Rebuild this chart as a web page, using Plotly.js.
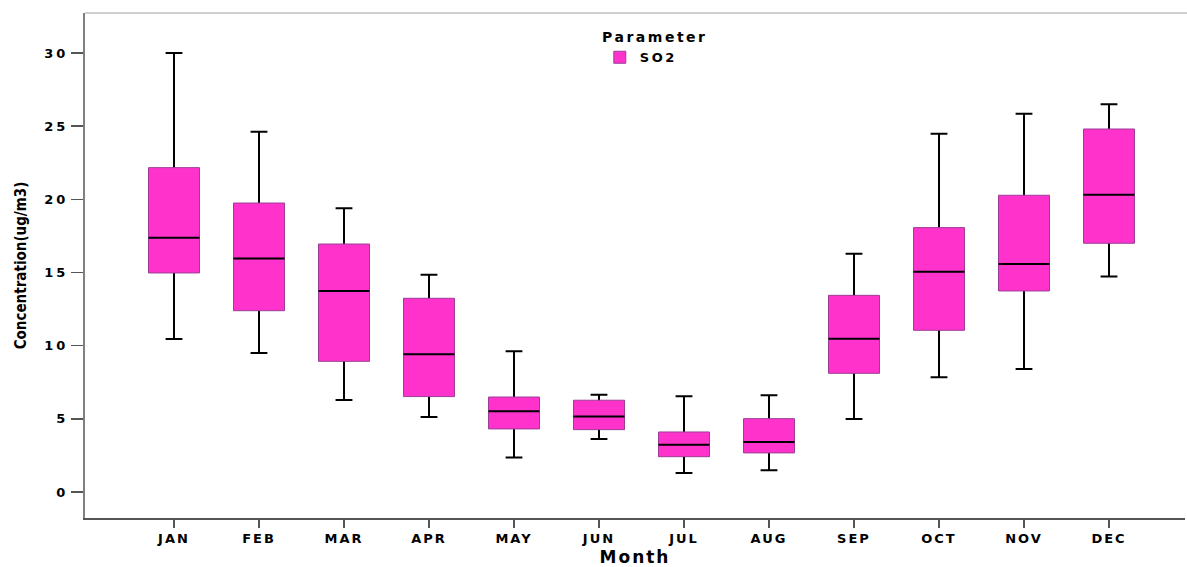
<!DOCTYPE html>
<html>
<head>
<meta charset="utf-8">
<script src="https://cdn.plot.ly/plotly-3.0.1.min.js"></script>
<style>
  html, body { margin: 0; padding: 0; background: #ffffff; }
  #chart { width: 1187px; height: 567px; }
  /* wide, spaced-out label lettering (unscoped so Plotly's text measuring sees it too) */
  .xtick text { letter-spacing: 2px; }
  .ytick text { letter-spacing: 3px; }
  .g-xtitle text { letter-spacing: 2px; }
  .legendtitletext { letter-spacing: 2.5px; }
  .legendtext { letter-spacing: 2.5px; }
</style>
</head>
<body>
<div id="chart"></div>
<script>
// Monthly SO2 concentration (ug/m3): box-plot summary statistics
const months = ['JAN', 'FEB', 'MAR', 'APR', 'MAY', 'JUN', 'JUL', 'AUG', 'SEP', 'OCT', 'NOV', 'DEC'];
const lowerWhisker = [10.46, 9.50, 6.29, 5.13, 2.35, 3.62, 1.30, 1.48, 4.99, 7.84, 8.41, 14.72];
const q1Values     = [14.97, 12.39, 8.93, 6.52, 4.31, 4.26, 2.41, 2.67, 8.11, 11.05, 13.74, 17.00];
const medianValues = [17.38, 15.95, 13.74, 9.41, 5.51, 5.15, 3.23, 3.42, 10.48, 15.06, 15.58, 20.32];
const q3Values     = [22.17, 19.75, 16.95, 13.24, 6.49, 6.27, 4.10, 5.01, 13.44, 18.07, 20.28, 24.81];
const upperWhisker = [30.00, 24.63, 19.39, 14.85, 9.62, 6.65, 6.54, 6.61, 16.29, 24.49, 25.86, 26.50];

const seriesName = 'SO2';
const boxFill = '#FF33CC';
const boxEdge = '#9B3D96';

// Whiskers (black): the box collapsed onto the median so only the stems and caps remain visible
const whiskers = {
  type: 'box',
  x: months,
  q1: medianValues,
  median: medianValues,
  q3: medianValues,
  lowerfence: lowerWhisker,
  upperfence: upperWhisker,
  fillcolor: 'rgba(0,0,0,0)',
  line: { color: '#000000', width: 2 },
  whiskerwidth: 0.33,
  showlegend: false,
  hoverinfo: 'skip'
};

// Interquartile boxes (pink fill, purple edge)
const boxes = {
  type: 'box',
  name: seriesName,
  x: months,
  q1: q1Values,
  median: medianValues,
  q3: q3Values,
  lowerfence: q1Values,
  upperfence: q3Values,
  fillcolor: boxFill,
  line: { color: boxEdge, width: 1 },
  whiskerwidth: 0,
  showlegend: true,
  hoverinfo: 'skip'
};

// Median lines (black) drawn over the boxes
const medianLines = {
  type: 'box',
  x: months,
  q1: medianValues,
  median: medianValues,
  q3: medianValues,
  lowerfence: medianValues,
  upperfence: medianValues,
  fillcolor: 'rgba(0,0,0,0)',
  line: { color: '#000000', width: 2 },
  whiskerwidth: 0,
  showlegend: false,
  hoverinfo: 'skip'
};

const fam = 'DejaVu Sans, Verdana, sans-serif';
const tickFont = { family: fam, size: 13, color: '#000000', weight: 'bold' };
const legendFont = { family: fam, size: 13, color: '#000000', weight: 'bold' };

const layout = {
  width: 1187,
  height: 567,
  margin: { l: 85, r: 2, t: 13, b: 49 },
  paper_bgcolor: '#ffffff',
  plot_bgcolor: '#ffffff',
  boxmode: 'overlay',
  boxgap: 0.4,
  boxgroupgap: 0,
  showlegend: true,
  legend: {
    x: 0.518, xanchor: 'center',
    y: 0.978, yanchor: 'top',
    bgcolor: 'rgba(0,0,0,0)',
    font: legendFont,
    tracegroupgap: 0,
    title: { text: 'Parameter', side: 'top center', font: { family: fam, size: 14, color: '#000000', weight: 'bold' } },
    itemclick: false
  },
  xaxis: {
    type: 'category',
    categoryorder: 'array',
    categoryarray: months,
    range: [-1.047, 11.894],
    showgrid: false,
    zeroline: false,
    showline: true,
    linecolor: '#555555',
    linewidth: 1.5,
    ticks: 'outside',
    ticklen: 8,
    tickwidth: 1.5,
    tickcolor: '#555555',
    tickfont: tickFont,
    title: { text: 'Month', standoff: 12, font: { family: fam, size: 17, color: '#000000', weight: 'bold' } },
    fixedrange: true
  },
  yaxis: {
    range: [-1.78, 32.74],
    dtick: 5,
    tick0: 0,
    showgrid: false,
    zeroline: false,
    showline: true,
    linecolor: '#808080',
    linewidth: 2,
    ticks: 'outside',
    ticklen: 12,
    tickwidth: 1.5,
    tickcolor: '#555555',
    tickfont: tickFont,
    title: { text: 'Concentration(ug/m3)', standoff: 14, font: { family: 'Liberation Sans Narrow, DejaVu Sans Condensed, sans-serif', size: 15, color: '#000000', weight: 'bold' } },
    fixedrange: true
  },
  shapes: [
    { type: 'line', xref: 'paper', yref: 'paper', x0: 0, x1: 1.002, y0: 1, y1: 1, line: { color: '#c0c0c0', width: 1.5 } }
  ]
};

Plotly.newPlot('chart', [whiskers, boxes, medianLines], layout, { displayModeBar: false, staticPlot: true });
</script>
</body>
</html>
